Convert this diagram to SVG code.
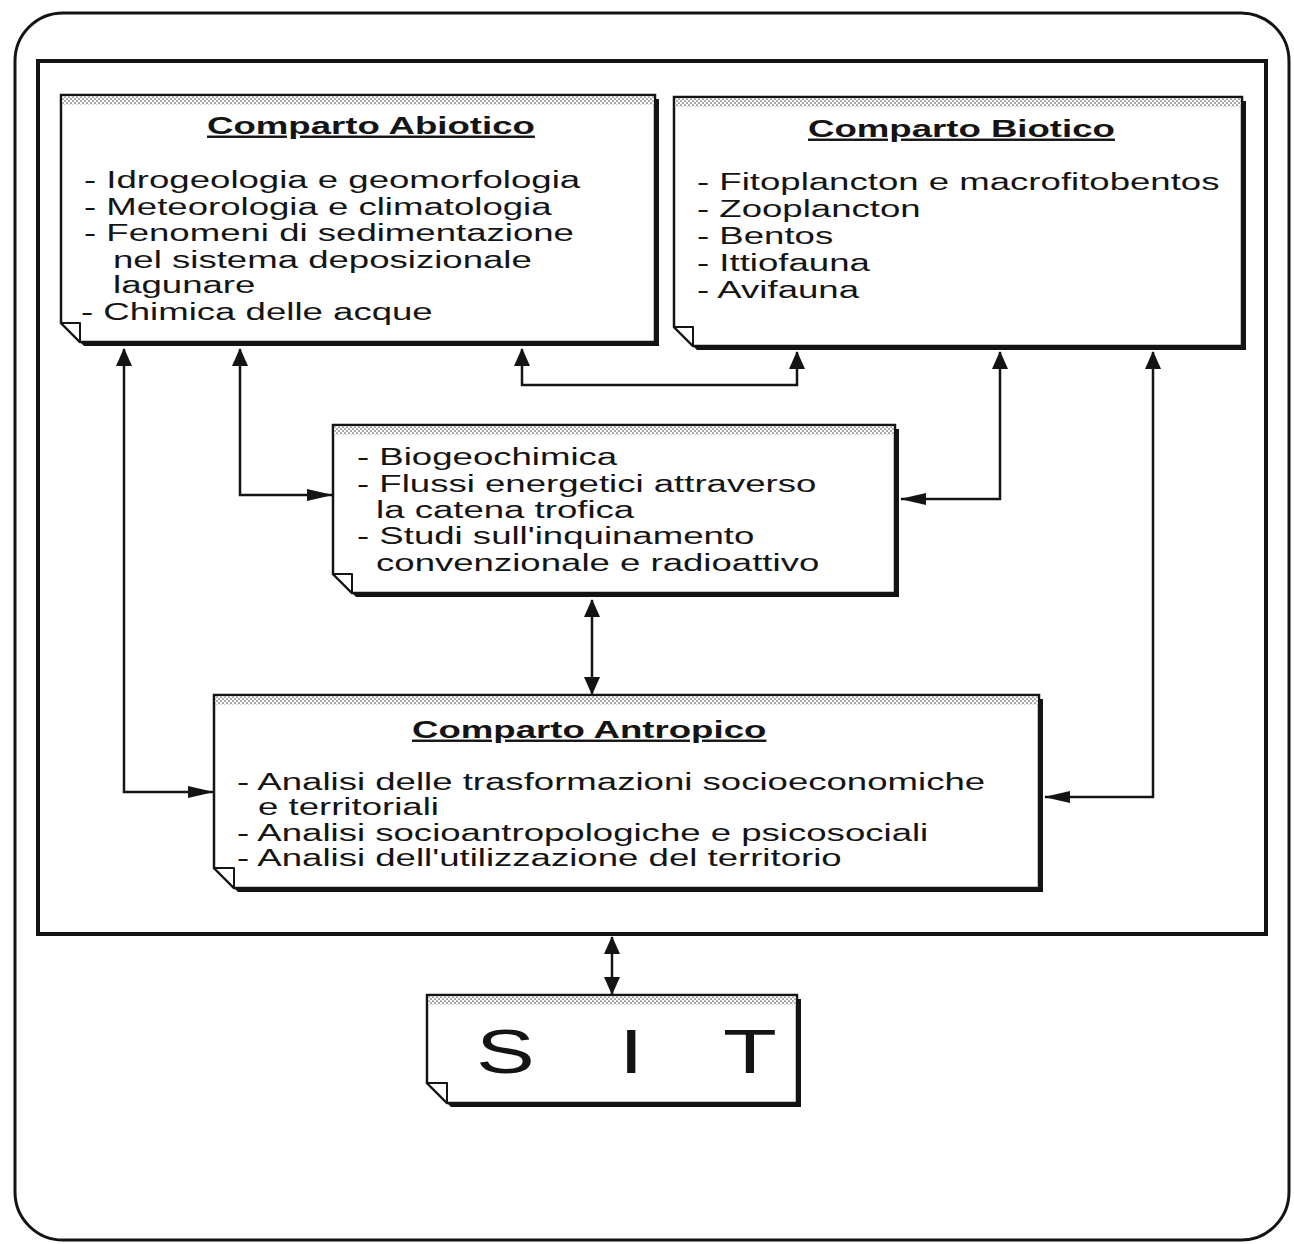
<svg xmlns="http://www.w3.org/2000/svg" width="1294" height="1244" viewBox="0 0 1294 1244">
<defs>
<style>
.frame{fill:none;stroke:#141414}
.shadow{fill:#141414}
.box{fill:#ffffff;stroke:#141414;stroke-width:2.5;stroke-linejoin:miter}
.flap{fill:#ffffff;stroke:#141414;stroke-width:2;stroke-linejoin:round}
.strip{fill:url(#dots)}
.t{font-family:"Liberation Sans",Arial,Helvetica,sans-serif;font-size:23px;fill:#141414}
.h{font-size:24px;font-weight:bold;text-decoration:underline}
.big{font-family:"Liberation Sans",Arial,Helvetica,sans-serif;font-size:63px;fill:#141414}
.c{fill:none;stroke:#141414;stroke-width:2.5}
</style>
<pattern id="dots" width="4" height="4" patternUnits="userSpaceOnUse">
<rect width="4" height="4" fill="#ffffff"/>
<circle cx="1" cy="1" r="0.85" fill="#555555"/>
<circle cx="3" cy="3" r="0.85" fill="#555555"/>
</pattern>
<marker id="mv" markerUnits="userSpaceOnUse" markerWidth="18" markerHeight="16" refX="17" refY="8" orient="auto-start-reverse" viewBox="0 0 18 16">
<path d="M0,0 L18,8 L0,16 Z" fill="#141414"/>
</marker>
<marker id="mh" markerUnits="userSpaceOnUse" markerWidth="26" markerHeight="12" refX="25" refY="6" orient="auto-start-reverse" viewBox="0 0 26 12">
<path d="M0,0 L26,6 L0,12 Z" fill="#141414"/>
</marker>
</defs>
<rect width="1294" height="1244" fill="#ffffff"/>
<g id="frames">
<rect class="frame" x="15" y="13" width="1274" height="1227" rx="48" stroke-width="3"/>
<rect class="frame" x="38" y="61" width="1228" height="873" stroke-width="4"/>
</g>
<g id="abiotico">
<path class="shadow" transform="translate(4,4)" d="M61,95 H655 V342 H80 L61,323 Z"/>
<path class="box" d="M61,95 H655 V342 H80 L61,323 Z"/>
<rect class="strip" x="62.5" y="96.5" width="591" height="8"/>
<path class="flap" d="M61,323 H80 V342 Z"/>
<text class="t h" transform="translate(207,134) scale(1.525,1)">Comparto Abiotico</text>
<text class="t" transform="translate(84,188) scale(1.591,1)">- Idrogeologia e geomorfologia</text>
<text class="t" transform="translate(84,215) scale(1.591,1)">- Meteorologia e climatologia</text>
<text class="t" transform="translate(84,241) scale(1.591,1)">- Fenomeni di sedimentazione</text>
<text class="t" transform="translate(113,268) scale(1.591,1)">nel sistema deposizionale</text>
<text class="t" transform="translate(113,293) scale(1.591,1)">lagunare</text>
<text class="t" transform="translate(81,320) scale(1.591,1)">- Chimica delle acque</text>
</g>
<g id="biotico">
<path class="shadow" transform="translate(4,4)" d="M674,97 H1242 V346 H693 L674,327 Z"/>
<path class="box" d="M674,97 H1242 V346 H693 L674,327 Z"/>
<rect class="strip" x="675.5" y="98.5" width="565" height="8"/>
<path class="flap" d="M674,327 H693 V346 Z"/>
<text class="t h" transform="translate(808,137) scale(1.525,1)">Comparto Biotico</text>
<text class="t" transform="translate(697,190) scale(1.591,1)">- Fitoplancton e macrofitobentos</text>
<text class="t" transform="translate(697,217) scale(1.591,1)">- Zooplancton</text>
<text class="t" transform="translate(697,244) scale(1.591,1)">- Bentos</text>
<text class="t" transform="translate(697,271) scale(1.591,1)">- Ittiofauna</text>
<text class="t" transform="translate(697,298) scale(1.591,1)">- Avifauna</text>
</g>
<g id="interazioni">
<path class="shadow" transform="translate(4,4)" d="M333,425 H895 V593 H352 L333,574 Z"/>
<path class="box" d="M333,425 H895 V593 H352 L333,574 Z"/>
<rect class="strip" x="334.5" y="426.5" width="559" height="8"/>
<path class="flap" d="M333,574 H352 V593 Z"/>
<text class="t" transform="translate(357,465) scale(1.591,1)">- Biogeochimica</text>
<text class="t" transform="translate(357,492) scale(1.591,1)">- Flussi energetici attraverso</text>
<text class="t" transform="translate(376,518) scale(1.591,1)">la catena trofica</text>
<text class="t" transform="translate(357,544) scale(1.591,1)">- Studi sull'inquinamento</text>
<text class="t" transform="translate(376,571) scale(1.591,1)">convenzionale e radioattivo</text>
</g>
<g id="antropico">
<path class="shadow" transform="translate(4,4)" d="M214,695 H1039 V888 H234 L214,868 Z"/>
<path class="box" d="M214,695 H1039 V888 H234 L214,868 Z"/>
<rect class="strip" x="215.5" y="696.5" width="822" height="8"/>
<path class="flap" d="M214,868 H234 V888 Z"/>
<text class="t h" transform="translate(412,738) scale(1.525,1)">Comparto Antropico</text>
<text class="t" transform="translate(237,790) scale(1.591,1)">- Analisi delle trasformazioni socioeconomiche</text>
<text class="t" transform="translate(258,815) scale(1.591,1)">e territoriali</text>
<text class="t" transform="translate(237,841) scale(1.591,1)">- Analisi socioantropologiche e psicosociali</text>
<text class="t" transform="translate(237,866) scale(1.591,1)">- Analisi dell'utilizzazione del territorio</text>
</g>
<g id="sit">
<path class="shadow" transform="translate(4,4)" d="M427,995 H797 V1103 H447 L427,1083 Z"/>
<path class="box" d="M427,995 H797 V1103 H447 L427,1083 Z"/>
<rect class="strip" x="428.5" y="996.5" width="367" height="8"/>
<path class="flap" d="M427,1083 H447 V1103 Z"/>
<text class="big" transform="translate(476,1073) scale(1.4,1)">S</text>
<text class="big" transform="translate(619,1073) scale(1.4,1)">I</text>
<text class="big" transform="translate(723,1073) scale(1.4,1)">T</text>
</g>
<g id="connectors">
<path class="c" d="M124,349 V792 H213" marker-start="url(#mv)" marker-end="url(#mh)"/>
<path class="c" d="M240,349 V495 H332" marker-start="url(#mv)" marker-end="url(#mh)"/>
<path class="c" d="M522,349 V385 H797 V352" marker-start="url(#mv)" marker-end="url(#mv)"/>
<path class="c" d="M1000,352 V499 H901" marker-start="url(#mv)" marker-end="url(#mh)"/>
<path class="c" d="M1153,352 V797 H1045" marker-start="url(#mv)" marker-end="url(#mh)"/>
<path class="c" d="M592,600 V694" marker-start="url(#mv)" marker-end="url(#mv)"/>
<path class="c" d="M612,937 V994" marker-start="url(#mv)" marker-end="url(#mv)"/>
</g>
</svg>
